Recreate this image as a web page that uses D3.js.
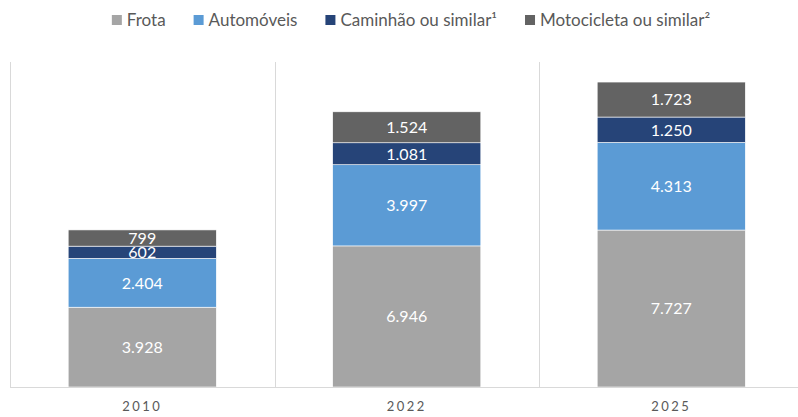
<!DOCTYPE html>
<html>
<head>
<meta charset="utf-8">
<script src="https://cdn.jsdelivr.net/npm/d3@7/dist/d3.min.js"></script>
<style>
  html, body { margin: 0; padding: 0; background: #fff; }
  svg { display: block; }
</style>
</head>
<body>
<svg id="chart" width="798" height="417"></svg>
<script>
// Categories and series values (thousands)
const years = ["2010", "2022", "2025"];
const seriesNames = ["Frota", "Automóveis", "Caminhão ou similar¹", "Motocicleta ou similar²"];
const frota = [3928, 6946, 7727];
const automoveis = [2404, 3997, 4313];
const caminhao = [602, 1081, 1250];
const motocicleta = [799, 1524, 1723];
const colors = ["#A5A5A5", "#5B9BD5", "#264478", "#636363"];
const yMax = 16000;

const rows = years.map((y, i) => ({
  year: y,
  [seriesNames[0]]: frota[i],
  [seriesNames[1]]: automoveis[i],
  [seriesNames[2]]: caminhao[i],
  [seriesNames[3]]: motocicleta[i]
}));

const fmt = d3.formatLocale({ decimal: ",", thousands: ".", grouping: [3], currency: ["R$", ""] }).format(",d");
const font = "Lato, 'Open Sans', sans-serif";

const svg = d3.select("#chart");
const plot = { left: 10, right: 803.5, top: 62, bottom: 387 };

const x = d3.scaleBand().domain(years).range([plot.left, plot.right]).paddingInner(0).paddingOuter(0);
const y = d3.scaleLinear().domain([0, yMax]).range([plot.bottom, plot.top]);
const barW = x.bandwidth() * 0.56;

// Category separators and frame
const grid = svg.append("g").attr("stroke", "#D9D9D9").attr("stroke-width", 1);
[plot.left, ...years.slice(1).map(d => x(d))].forEach(px => {
  grid.append("line")
    .attr("x1", Math.round(px) + 0.5).attr("x2", Math.round(px) + 0.5)
    .attr("y1", plot.top).attr("y2", plot.bottom);
});

const stack = d3.stack().keys(seriesNames)(rows);

const layers = svg.append("g").selectAll("g").data(stack).join("g")
  .attr("fill", (d, i) => colors[i]);

layers.selectAll("rect").data(d => d).join("rect")
  .attr("x", d => x(d.data.year) + (x.bandwidth() - barW) / 2)
  .attr("width", barW)
  .attr("y", d => y(d[1]))
  .attr("height", d => y(d[0]) - y(d[1]))
  .attr("stroke", "#ffffff")
  .attr("stroke-width", 0.6);

// Value labels centred in each segment
layers.selectAll("text").data(d => d).join("text")
  .attr("x", d => x(d.data.year) + x.bandwidth() / 2)
  .attr("y", d => (y(d[0]) + y(d[1])) / 2)
  .attr("dy", "0.36em")
  .attr("text-anchor", "middle")
  .attr("fill", "#ffffff")
  .attr("font-family", font)
  .attr("font-size", 16)
  .text(d => fmt(d[1] - d[0]));

// Baseline
svg.append("line")
  .attr("x1", plot.left).attr("x2", plot.right)
  .attr("y1", plot.bottom + 0.5).attr("y2", plot.bottom + 0.5)
  .attr("stroke", "#D9D9D9").attr("stroke-width", 1);

// Category axis labels
const xAxis = svg.append("g")
  .attr("transform", `translate(0,${plot.bottom})`)
  .call(d3.axisBottom(x).tickSize(0).tickPadding(15));
xAxis.select(".domain").remove();
xAxis.selectAll("text")
  .attr("font-family", font)
  .attr("font-size", 13)
  .attr("fill", "#595959")
  .attr("letter-spacing", "2.5px");

// Legend
const legend = svg.append("g").attr("transform", "translate(0,20)");
let cx = 0;
const items = legend.selectAll("g").data(seriesNames).join("g");
items.append("rect").attr("width", 10).attr("height", 10).attr("y", -5)
  .attr("fill", (d, i) => colors[i]);
items.append("text").attr("x", 15).attr("dy", "0.36em")
  .attr("font-family", font).attr("font-size", 17).attr("fill", "#595959")
  .text(d => d);
items.each(function () {
  const g = d3.select(this);
  g.attr("transform", `translate(${cx},0)`);
  cx += 15 + g.select("text").node().getComputedTextLength() + 28;
});
const legendW = cx - 28;
legend.attr("transform", `translate(${411 - legendW / 2},20)`);
</script>
</body>
</html>
